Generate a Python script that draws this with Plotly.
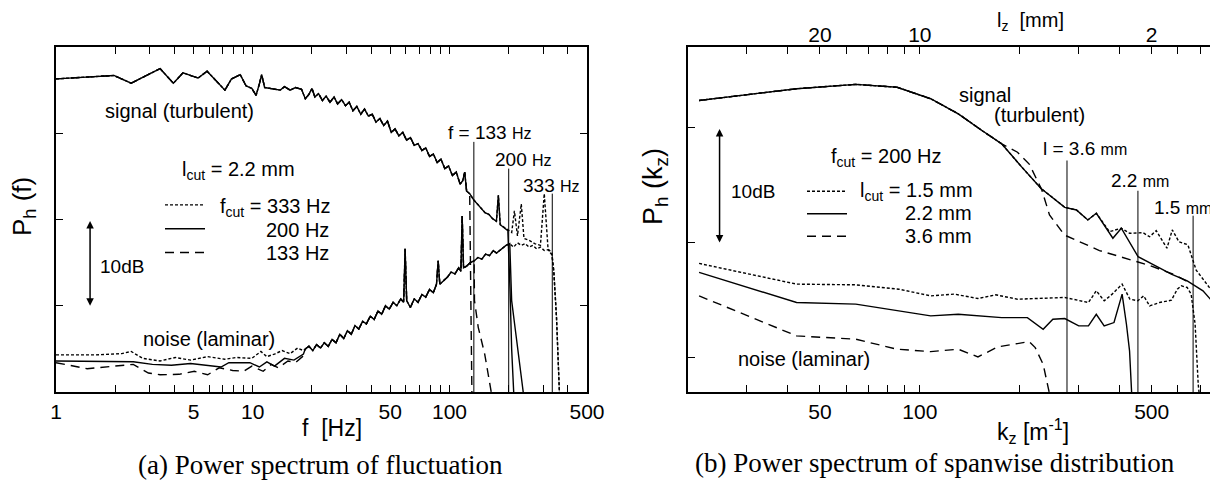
import math
import plotly.graph_objects as go

# ---------------- Panel (a): power spectrum of fluctuation ----------------
# signal (turbulent), common to the three f_cut curves below their cut
sig_f = [1.0, 1.97, 2.41, 3.38, 3.95, 4.42, 5.28, 5.86, 7.22, 7.80,
         8.64, 9.24, 9.89, 10.4, 10.8, 11.1, 11.5, 12.4, 13.8, 14.5,
         15.5, 16.5, 17.7, 18.5, 19.3, 20.0, 20.7, 21.6, 22.6, 23.6,
         24.7, 25.9, 27.0, 28.3, 29.6, 30.9, 32.3, 33.8, 35.4, 37.0,
         38.7, 40.5, 42.3, 44.3, 46.3, 48.4, 50.6, 52.9, 55.3, 57.9,
         60.5, 63.3, 66.2, 69.2, 72.4, 75.7, 79.2, 82.8, 86.6, 90.5,
         94.7, 99.0, 103.5, 108.3, 113.2, 116.8, 119.5, 122.2, 126.7, 132.5,
         138.5, 144.9, 151.5, 158.4, 165.6, 173.2, 177.2, 181.1, 189.4, 198.0,
         207.1, 213.8, 221.6, 231.7, 239.1, 253.6, 271.1, 289.9, 303.2, 316.9,
         331.5]
sig_db = [36.3, 36.7, 35.8, 37.5, 35.8, 37.0, 36.4, 37.2, 35.0, 36.3,
          36.8, 35.5, 35.2, 34.4, 35.7, 36.8, 35.3, 35.2, 35.0, 35.4,
          35.0, 35.3, 35.1, 34.0, 34.5, 35.2, 34.2, 34.6, 33.8, 34.3,
          33.6, 34.2, 33.4, 33.9, 33.2, 33.6, 32.6, 33.1, 32.2, 32.8,
          32.0, 32.2, 31.3, 31.7, 30.9, 31.4, 30.1, 30.5, 29.7, 30.1,
          29.2, 29.5, 28.6, 28.8, 28.0, 28.3, 27.3, 27.6, 26.6, 27.0,
          25.9, 26.2, 25.1, 25.5, 24.1, 24.5, 25.5, 23.3, 23.0, 22.3,
          21.8, 21.4, 20.8, 20.6, 20.1, 19.8, 22.8, 19.4, 19.1, 18.7,
          18.5, 21.0, 18.1, 21.8, 17.8, 17.6, 17.2, 17.0, 23.0, 16.6,
          16.1]

# noise (laminar), common part above ~18 Hz
noise_hi_f = [18.5, 19.3, 20.2, 21.1, 22.1, 23.1, 24.2, 25.3, 26.5, 27.7,
              29.0, 30.3, 31.7, 33.1, 34.6, 36.2, 37.8, 39.6, 41.4, 43.3,
              45.2, 47.3, 49.4, 51.7, 54.0, 56.5, 58.5, 59.5, 60.6, 63.3,
              66.2, 69.2, 72.4, 75.7, 79.2, 82.8, 85.9, 87.6, 89.3, 93.2,
              97.5, 101.9, 106.6, 111.4, 114.3, 116.0, 117.9, 122.2, 127.5, 133.4,
              139.6, 146.0, 152.7, 159.6, 167.0, 173.4, 185.3, 193.7, 202.5, 211.8,
              221.6, 231.7, 242.3, 253.6, 265.2, 277.3, 290.0, 303.3, 317.2, 331.5]
noise_hi_db = [5.0, 5.3, 4.8, 5.5, 5.1, 5.7, 5.3, 6.1, 5.7, 6.7,
               6.2, 7.1, 6.7, 7.7, 7.3, 8.2, 7.9, 8.8, 8.4, 9.4,
               9.0, 10.0, 9.6, 10.4, 10.0, 10.8, 10.4, 16.6, 10.6, 9.8,
               10.8, 10.4, 11.3, 11.0, 11.9, 11.5, 12.5, 15.2, 12.5, 12.9,
               13.3, 13.9, 13.7, 14.4, 14.0, 20.4, 14.4, 14.6, 15.0, 15.2,
               15.6, 15.4, 16.0, 15.8, 16.4, 16.1, 16.6, 17.0, 17.2, 16.8,
               17.3, 17.0, 17.2, 16.8, 17.0, 16.6, 16.8, 16.4, 16.5, 15.9]

# noise, low-frequency part for each f_cut
noise_lo_333_f = [1.0, 1.58, 2.16, 2.41, 2.76, 3.38, 4.04, 4.83, 5.9, 7.2,
                  8.27, 9.89, 11.0, 11.8, 12.9, 14.1, 15.5, 16.9, 18.1]
noise_lo_333_db = [4.3, 4.3, 4.45, 4.7, 3.9, 3.6, 4.0, 3.7, 4.1, 3.8,
                   4.0, 3.9, 4.7, 4.1, 4.4, 4.8, 4.45, 5.1, 4.8]
noise_lo_200_f = [1.0, 2.47, 3.09, 3.86, 4.83, 5.9, 6.9, 7.56, 9.67, 10.8,
                  11.8, 12.9, 14.5, 16.2, 18.1]
noise_lo_200_db = [3.6, 3.5, 3.2, 3.1, 3.3, 3.1, 2.9, 3.4, 3.4, 2.9,
                   3.5, 3.0, 3.9, 3.7, 4.4]
noise_lo_133_f = [1.0, 1.21, 1.44, 1.97, 2.47, 2.95, 3.38, 4.22, 5.05, 5.9,
                  6.75, 7.9, 9.0, 9.9, 11.3, 12.4, 13.5, 15.1, 16.5, 18.1]
noise_lo_133_db = [3.4, 3.0, 2.7, 3.0, 3.2, 2.2, 2.0, 2.05, 2.4, 2.0,
                   2.8, 2.5, 2.4, 3.0, 2.4, 3.2, 2.8, 3.6, 3.4, 4.2]

# roll-off above each cut frequency
sig_tail_333_f, sig_tail_333_db = [339, 350, 362], [14.0, 8.6, 0.0]
sig_tail_200_f, sig_tail_200_db = [203, 207, 212], [12.0, 5.0, 0.0]
sig_tail_133_f, sig_tail_133_db = [128.5, 130.0], [10.0, 0.0]
noise_tail_333_f, noise_tail_333_db = [339, 350, 362], [14.0, 8.6, 0.0]
noise_tail_200_f, noise_tail_200_db = [207, 217, 237], [10.6, 6.9, 0.0]
noise_tail_133_f, noise_tail_133_db = [134, 140, 151, 163], [10.6, 7.5, 4.4, 0.0]

f_cut_hz = [333, 200, 133]
f_cut_top_db = [23.0, 25.9, 29.0]
f_cut_labels = ["333 Hz", "200 Hz", "133 Hz"]

fa_ticks = [1, 2, 3, 4, 5, 6, 7, 8, 9, 10, 20, 30, 40, 50, 60, 70, 80, 90,
            100, 200, 300, 400, 500]
fa_labels = [1, 5, 10, 50, 100, 500]

# ---------------- Panel (b): power spectrum of spanwise distribution ----------------
k_sig_22 = [21.6, 42.5, 64.1, 85.4, 107.8, 130.6, 153.9, 176.5, 202.4, 232,
            273.5, 296.6, 321, 340.6, 382, 405, 455, 500, 573, 640, 714, 787]
db_sig_22 = [32.35, 33.37, 33.75, 33.5, 32.5, 31.19, 29.74, 28.58, 26.6, 24.7,
             23.06, 22.83, 21.96, 22.54, 20.37, 21.24, 18.77, 18.12, 17.25, 16.67, 15.8, 14.42]
k_sig_36 = [21.6, 42.5, 64.1, 85.4, 107.8, 130.6, 153.9, 176.5, 197, 214,
            233, 246, 273, 348, 493, 586, 641, 660]
db_sig_36 = [32.35, 33.37, 33.75, 33.5, 32.5, 31.19, 29.74, 28.58, 27.85, 26.8,
             24.6, 22.4, 20.65, 19.3, 18.0, 17.2, 16.6, 16.4]
k_sig_15 = [21.6, 42.5, 64.1, 85.4, 107.8, 130.6, 153.9, 176.5, 202.4, 232,
            273.5, 296.6, 321, 340.6, 373, 405, 429, 471, 493, 516,
            556, 577, 604, 643, 681, 730, 783]
db_sig_15 = [32.35, 33.37, 33.75, 33.5, 32.5, 31.19, 29.74, 28.58, 26.6, 24.7,
             23.06, 22.83, 21.96, 22.54, 20.94, 21.24, 20.8, 20.85, 20.5, 21.03,
             19.5, 21.1, 20.07, 19.8, 17.6, 16.45, 15.3]

k_noise_15 = [21.6, 42.5, 64.1, 86.5, 107.8, 127.1, 149.7, 169.4, 196.9, 232.2,
              273.6, 322.4, 340.4, 359.6, 380.1, 407.3, 429.9, 454.2, 473.1, 493.0,
              528.3, 573.4, 597.6, 614.4, 639.8, 657.6, 676.1, 690.8, 694.6]
db_noise_15 = [18.18, 16.38, 16.32, 15.94, 15.36, 15.51, 15.13, 15.45, 15.07, 15.16,
               15.22, 14.78, 15.80, 14.93, 15.51, 16.38, 15.07, 14.93, 15.36, 14.49,
               14.78, 14.98, 15.94, 16.23, 16.09, 15.51, 12.89, 7.67, 7.0]
k_noise_22 = [21.6, 42.5, 64.1, 86.5, 107.8, 130.6, 153.9, 176.5, 211.0, 235.4,
              251.8, 273.6, 301.3, 322.4, 340.4, 359.6, 385.0, 407.3, 419.7, 428.9, 435.0]
db_noise_22 = [17.40, 14.78, 14.64, 14.05, 13.62, 13.76, 13.62, 13.47, 13.47, 12.46,
               13.33, 13.39, 12.75, 12.75, 13.76, 12.75, 13.04, 15.51, 12.89, 10.57, 7.0]
k_noise_36 = [21.6, 42.5, 64.1, 85.4, 107.8, 130.6, 149.7, 171.8, 213.8, 222.8,
              235.4, 245.4]
db_noise_36 = [15.36, 11.88, 11.59, 10.72, 10.51, 10.72, 10.05, 10.92, 11.38, 10.86,
               9.41, 7.0]

l_cut_mm = [1.5, 2.2, 3.6]
l_cut_top_db = [22.33, 24.5, 27.13]
l_cut_labels = ["1.5 mm", "2.2 mm", "3.6 mm"]

kb_ticks = [30, 40, 50, 60, 70, 80, 90, 100, 200, 300, 400, 500, 600, 700]
kb_labels = [50, 100, 500]
lz_labels = [20, 10, 2]

# ---------------- figure geometry (page has an 8 px body margin) ----------------
OX, OY = 8, 8
W, H = 1210, 475
def px(x):
    return (x - OX) / W
def py(y):
    return 1 - (y - OY) / H

FONT = "Liberation Sans, Arial, sans-serif"
SERIF = "Liberation Serif, Times New Roman, serif"

fig = go.Figure()
dash_a = {333: "3px,2px", 200: "solid", 133: "9px,6px"}
dash_b = {1.5: "3px,2px", 2.2: "solid", 3.6: "9px,6px"}

sig_tails = {333: (sig_tail_333_f, sig_tail_333_db), 200: (sig_tail_200_f, sig_tail_200_db),
             133: (sig_tail_133_f, sig_tail_133_db)}
noise_tails = {333: (noise_tail_333_f, noise_tail_333_db), 200: (noise_tail_200_f, noise_tail_200_db),
               133: (noise_tail_133_f, noise_tail_133_db)}
noise_los = {333: (noise_lo_333_f, noise_lo_333_db), 200: (noise_lo_200_f, noise_lo_200_db),
             133: (noise_lo_133_f, noise_lo_133_db)}

for i, c in enumerate(f_cut_hz):
    tf, td = sig_tails[c]
    xs = [f for f in sig_f if f < tf[0]] + tf
    ys = [d for f, d in zip(sig_f, sig_db) if f < tf[0]] + td
    fig.add_trace(go.Scatter(x=xs, y=ys, mode="lines", name=" ", legend="legend",
                             line=dict(color="black", width=1.4, dash=dash_a[c]),
                             xaxis="x", yaxis="y", showlegend=True, hoverinfo="skip"))
for c in f_cut_hz:
    lf, ld = noise_los[c]
    tf, td = noise_tails[c]
    hf = [f for f in noise_hi_f if f < tf[0]]
    hd = [d for f, d in zip(noise_hi_f, noise_hi_db) if f < tf[0]]
    fig.add_trace(go.Scatter(x=lf + hf + tf, y=ld + hd + td, mode="lines", showlegend=False,
                             line=dict(color="black", width=1.4, dash=dash_a[c]),
                             xaxis="x", yaxis="y", hoverinfo="skip"))
for c, top in zip(f_cut_hz, f_cut_top_db):
    fig.add_trace(go.Scatter(x=[c, c], y=[0, top], mode="lines", showlegend=False,
                             line=dict(color="black", width=1), xaxis="x", yaxis="y"))

sig_b = {1.5: (k_sig_15, db_sig_15), 2.2: (k_sig_22, db_sig_22), 3.6: (k_sig_36, db_sig_36)}
noise_b = {1.5: (k_noise_15, db_noise_15), 2.2: (k_noise_22, db_noise_22), 3.6: (k_noise_36, db_noise_36)}
for l in l_cut_mm:
    fig.add_trace(go.Scatter(x=sig_b[l][0], y=sig_b[l][1], mode="lines", name=" ", legend="legend2",
                             line=dict(color="black", width=1.4, dash=dash_b[l]),
                             xaxis="x2", yaxis="y2", hoverinfo="skip"))
    fig.add_trace(go.Scatter(x=noise_b[l][0], y=noise_b[l][1], mode="lines", showlegend=False,
                             line=dict(color="black", width=1.4, dash=dash_b[l]),
                             xaxis="x2", yaxis="y2", hoverinfo="skip"))
for l, top in zip(l_cut_mm, l_cut_top_db):
    k = 1000.0 / l
    fig.add_trace(go.Scatter(x=[k, k], y=[7, top], mode="lines", showlegend=False,
                             line=dict(color="black", width=1), xaxis="x2", yaxis="y2"))
# invisible trace to activate the top l_z axis
fig.add_trace(go.Scatter(x=[100], y=[20], xaxis="x3", yaxis="y2", mode="markers",
                         marker=dict(opacity=0), showlegend=False, hoverinfo="skip"))

ydom = [py(392), py(47)]
axis_common = dict(showline=True, linewidth=2, linecolor="black", mirror="ticks",
                   ticks="inside", ticklen=7, tickwidth=1.3, tickcolor="black",
                   showgrid=False, zeroline=False, automargin=False,
                   tickfont=dict(family=FONT, size=21, color="black"))

fig.update_layout(
    width=W, height=H, margin=dict(l=0, r=0, t=0, b=0, autoexpand=False),
    paper_bgcolor="white", plot_bgcolor="white",
    font=dict(family=FONT, size=20, color="black"),
    xaxis=dict(domain=[px(56), px(587)], type="log", range=[0, math.log10(500)],
               tickvals=fa_ticks, ticktext=[str(v) if v in fa_labels else "" for v in fa_ticks],
               anchor="y", **axis_common),
    yaxis=dict(domain=ydom, range=[0, 40], tickvals=[10, 20, 30], showticklabels=False,
               anchor="x", **axis_common),
    xaxis2=dict(domain=[px(688), px(1217)], type="log", range=[math.log10(20), math.log10(787)],
                tickvals=kb_ticks, ticktext=[str(v) if v in kb_labels else "" for v in kb_ticks],
                anchor="y2", **axis_common),
    yaxis2=dict(domain=ydom, range=[7, 37], tickvals=[10, 20, 30], showticklabels=False,
                anchor="x2", **axis_common),
    xaxis3=dict(overlaying="x2", side="top", anchor="y2", type="log",
                range=[math.log10(20), math.log10(787)],
                tickvals=[1000.0 / v for v in lz_labels], ticktext=[str(v) for v in lz_labels],
                ticks="", showline=False, showgrid=False, zeroline=False, automargin=False,
                tickfont=dict(family=FONT, size=21, color="black")),
    legend=dict(x=px(160), y=py(188), xanchor="left", yanchor="top",
                bgcolor="rgba(0,0,0,0)", font=dict(family=FONT, size=16), tracegroupgap=0,
                itemwidth=40),
    legend2=dict(x=px(802), y=py(175), xanchor="left", yanchor="top",
                 bgcolor="rgba(0,0,0,0)", font=dict(family=FONT, size=15), tracegroupgap=0,
                 itemwidth=40),
)

L = math.log10
ann = []
def t(text, x, y, xref, yref, size=20, **kw):
    d = dict(text=text, x=x, y=y, xref=xref, yref=yref, showarrow=False,
             xanchor="center", yanchor="middle",
             font=dict(family=FONT, size=size, color="black"))
    d.update(kw)
    ann.append(d)

small = lambda s: "<span style='font-size:16px'>%s</span>" % s
# panel a texts
t("signal (turbulent)", L(4.26), 32.6, "x", "y")
t("l<sub>cut</sub> = 2.2 mm", L(8.45), 25.7, "x", "y")
t("f<sub>cut</sub> = " + f_cut_labels[0], px(332), py(207), "paper", "paper", xanchor="right")
t(f_cut_labels[1], px(331), py(230), "paper", "paper", xanchor="right")
t(f_cut_labels[2], px(331), py(253), "paper", "paper", xanchor="right")
t("10dB", L(1.64), 14.6, "x", "y", xanchor="left", size=19)
t("noise (laminar)", L(5.96), 6.1, "x", "y")
t("f = 133 " + small("Hz"), L(160), 30.1, "x", "y", size=19)
t("200 " + small("Hz"), L(239), 27.0, "x", "y", size=19)
t("333 " + small("Hz"), L(329), 23.9, "x", "y", size=19)
ann.append(dict(x=L(1.49), y=10, ax=L(1.49), ay=20, xref="x", yref="y", axref="x", ayref="y",
                showarrow=True, arrowside="end+start", arrowhead=2, arrowsize=1, arrowwidth=1.5,
                arrowcolor="black", text=""))
# panel b texts
t("signal", L(157), 32.8, "x2", "y2")
t("(turbulent)", L(229), 31.05, "x2", "y2")
t("l = 3.6 " + small("mm"), L(314), 28.14, "x2", "y2", size=19)
t("2.2 " + small("mm"), L(460), 25.4, "x2", "y2", size=19)
t("1.5 " + small("mm"), L(622), 23.06, "x2", "y2", size=19)
t("f<sub>cut</sub> = 200 Hz", L(79.3), 27.4, "x2", "y2")
t("l<sub>cut</sub> = " + l_cut_labels[0], px(975), py(191), "paper", "paper", xanchor="right")
t(l_cut_labels[1], px(974), py(213), "paper", "paper", xanchor="right")
t(l_cut_labels[2], px(974), py(236), "paper", "paper", xanchor="right")
t("10dB", L(31.3), 24.4, "x2", "y2", size=19)
t("noise (laminar)", L(44.7), 9.84, "x2", "y2")
ann.append(dict(x=L(24.9), y=20, ax=L(24.9), ay=30, xref="x2", yref="y2", axref="x2", ayref="y2",
                showarrow=True, arrowside="end+start", arrowhead=2, arrowsize=1, arrowwidth=1.5,
                arrowcolor="black", text=""))
# axis titles and captions
t("f  [Hz]", px(332), py(428), "paper", "paper", size=23)
t("k<sub>z</sub> [m<sup>-1</sup>]", px(1033), py(431), "paper", "paper", size=23)
t("l<sub>z</sub>  [mm]", px(1030), py(21), "paper", "paper", size=20)
t("P<sub>h</sub> (f)", px(23), py(207), "paper", "paper", size=26, textangle=-90)
t("P<sub>h</sub> (k<sub>z</sub>)", px(655), py(186), "paper", "paper", size=27, textangle=-90)
t("(a) Power spectrum of fluctuation", px(320), py(465), "paper", "paper",
  font=dict(family=SERIF, size=27, color="black"))
t("(b) Power spectrum of spanwise distribution", px(935), py(463), "paper", "paper",
  font=dict(family=SERIF, size=27, color="black"))
fig.update_layout(annotations=ann)

fig.write_html("out.html")
